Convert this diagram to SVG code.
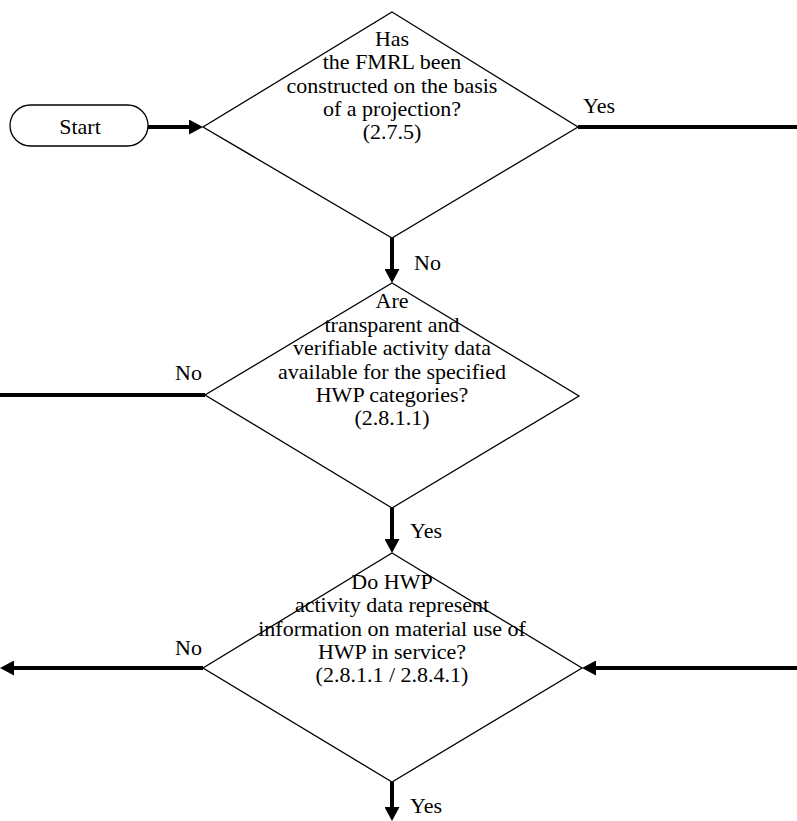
<svg xmlns="http://www.w3.org/2000/svg" width="797" height="821" viewBox="0 0 797 821">
<style>
.shape{fill:#fff;stroke:#000;stroke-width:1.3}
.conn{fill:none;stroke:#000;stroke-width:4}
text{font-family:"Liberation Serif","Times New Roman",serif;font-size:22px;fill:#000}
.c{text-anchor:middle}
</style>
<defs>
<marker id="ah" markerUnits="userSpaceOnUse" markerWidth="15" markerHeight="15" refX="4" refY="7.5" orient="auto">
<path d="M0,0 L14,7.5 L0,15 z" fill="#000"/>
</marker>
</defs>
<rect width="797" height="821" fill="#fff"/>
<g id="start">
<rect class="shape" x="10" y="105" width="138" height="41" rx="20.5" ry="20.5"/>
<text class="c" x="80" y="134">Start</text>
</g>
<g id="d1">
<polygon class="shape" points="392,12 578,127 392,238 203,127"/>
<text class="c" x="392" y="46">Has</text>
<text class="c" x="392" y="69">the FMRL been</text>
<text class="c" x="392" y="93">constructed on the basis</text>
<text class="c" x="392" y="116">of a projection?</text>
<text class="c" x="392" y="139">(2.7.5)</text>
</g>
<g id="d2">
<polygon class="shape" points="392,283 579,396 392,508 205,395"/>
<text class="c" x="392" y="308">Are</text>
<text class="c" x="392" y="332">transparent and</text>
<text class="c" x="392" y="355">verifiable activity data</text>
<text class="c" x="392" y="379">available for the specified</text>
<text class="c" x="392" y="402">HWP categories?</text>
<text class="c" x="392" y="425">(2.8.1.1)</text>
</g>
<g id="d3">
<polygon class="shape" points="392,553 582,668 392,782 203,668"/>
<text class="c" x="392" y="589">Do HWP</text>
<text class="c" x="392" y="612">activity data represent</text>
<text class="c" x="392" y="636">information on material use of</text>
<text class="c" x="392" y="659">HWP in service?</text>
<text class="c" x="392" y="682">(2.8.1.1 / 2.8.4.1)</text>
</g>
<g id="connectors">
<path class="conn" d="M148,127 H193" marker-end="url(#ah)"/>
<path class="conn" d="M578,127 H797"/>
<path class="conn" d="M392,238 V273" marker-end="url(#ah)"/>
<path class="conn" d="M205,395 H0"/>
<path class="conn" d="M392,508 V543" marker-end="url(#ah)"/>
<path class="conn" d="M203,668 H10" marker-end="url(#ah)"/>
<path class="conn" d="M797,668 H592" marker-end="url(#ah)"/>
<path class="conn" d="M392,782 V811" marker-end="url(#ah)"/>
<text x="583" y="113">Yes</text>
<text x="414" y="270">No</text>
<text x="175" y="380">No</text>
<text x="410" y="538">Yes</text>
<text x="175" y="655">No</text>
<text x="410" y="813">Yes</text>
</g>
</svg>
